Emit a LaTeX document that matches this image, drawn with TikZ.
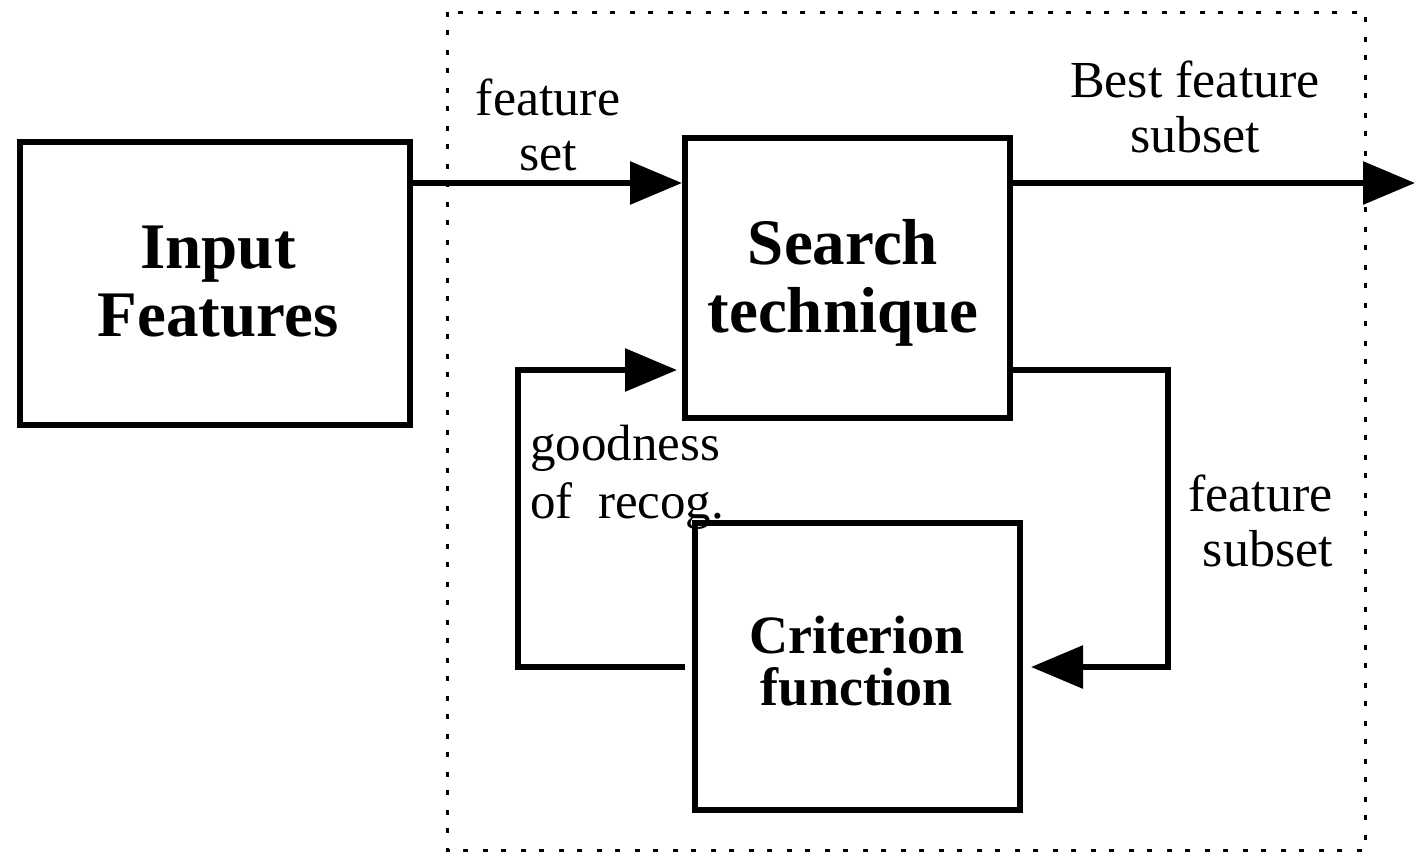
\documentclass[tikz,border=0pt]{standalone}
\usepackage{fontspec}
\setmainfont{Liberation Serif}
\usetikzlibrary{arrows.meta,calc}
\begin{document}
\begin{tikzpicture}[x=1pt,y=-1pt,
  box/.style={draw,line width=6pt,inner sep=0pt,align=center},
  arr/.style={line width=6pt,-{Triangle[length=52pt,width=42pt]}},
  wire/.style={line width=6pt},
  lbl/.style={inner sep=0pt,font=\fontsize{52}{55}\selectfont},
  frame/.style={line width=3pt,dash pattern=on 5pt off 13pt on 5pt off 15pt}
]
\useasboundingbox (0,0) rectangle (1415,857);
\draw[frame] (447,12) rectangle (1365,850);
\node[box,minimum width=390pt,minimum height=283pt] (inp) at (215,283.5) {};
\node[box,minimum width=325pt,minimum height=280pt] (search) at (847.5,278) {};
\node[box,minimum width=325pt,minimum height=287pt] (crit) at (857.5,666.5) {};
\node[inner sep=0pt,align=center,font=\fontsize{65}{68}\selectfont\bfseries] (tinp) at (218,281.5) {Input\\Features};
\node[inner sep=0pt,align=center,font=\fontsize{65}{68}\selectfont\bfseries] (tsearch) at (843,283) {Search\\technique};
\node[inner sep=0pt,align=center,font=\fontsize{54}{52}\selectfont\bfseries] (tcrit) at (857,661) {Criterion\\function};
\node[lbl,align=center] (lfs) at (548,125) {feature\\set};
\node[lbl,align=center] (lbest) at (1195,107) {Best feature\\subset};
\node[lbl,align=left,anchor=west,font=\fontsize{51}{58}\selectfont] (lgood) at (530,477) {goodness\\of~ recog.};
\node[lbl,align=right,anchor=east] (lsub) at (1333,521) {feature\\subset};
\coordinate (a1) at (410,183);
\coordinate (out) at (1415,183);
\coordinate (fbl) at (518,370);
\coordinate (fbr) at (1168,667);
\draw[arr] (a1) -- (a1 -| search.west);
\draw[arr] (search.east |- a1) -- (out);
\draw[arr,shorten <=7pt,shorten >=5pt] (crit.west |- fbr) -| (fbl) -- (fbl -| search.west);
\draw[arr,shorten >=8pt] (search.east |- fbl) -| (fbr) -- (fbr -| crit.east);
\end{tikzpicture}
\end{document}
